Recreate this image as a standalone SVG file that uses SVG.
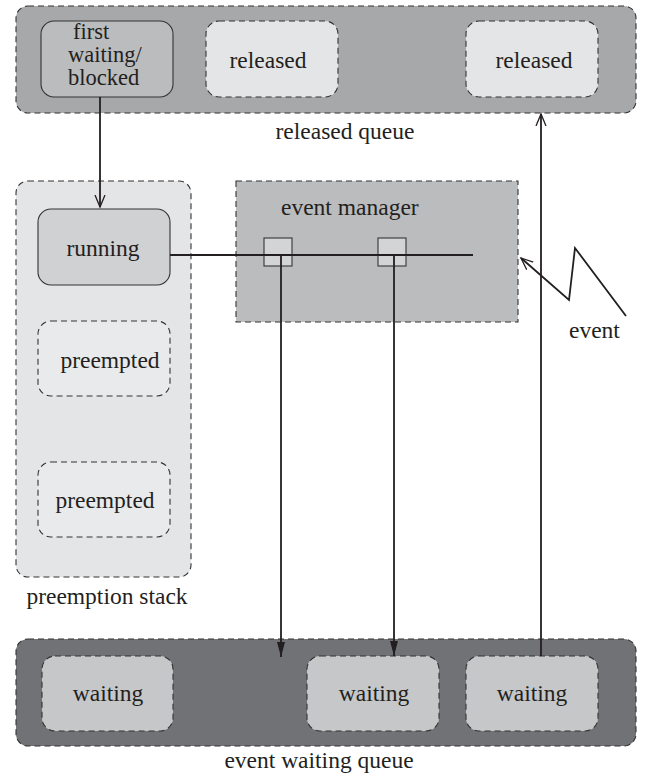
<svg xmlns="http://www.w3.org/2000/svg" width="645" height="779" viewBox="0 0 645 779">
<style>
.m{text-anchor:middle}
.dash{stroke:#333;stroke-width:1.1;stroke-dasharray:6,4}
.solid{stroke:#333;stroke-width:1.1}
.conn{stroke:#231f20;stroke-width:1.8;fill:none}
.port{fill:#d3d4d6;stroke:#333;stroke-width:1.1}
</style>
<defs>
<marker id="open" markerUnits="userSpaceOnUse" markerWidth="14" markerHeight="20" refX="12" refY="5" orient="auto" viewBox="0 0 14 10">
<path d="M0,0 L12,5 L0,10" fill="none" stroke="#231f20" stroke-width="1.3"/>
</marker>
<marker id="fill" markerUnits="userSpaceOnUse" markerWidth="16" markerHeight="10" refX="15" refY="4" orient="auto" viewBox="0 0 16 8">
<path d="M0,0 L15,4 L0,8 Z" fill="#231f20"/>
</marker>
</defs>

<g font-family="Liberation Serif, Times New Roman, Times, serif" font-size="23.5" fill="#231f20">
<g id="released-queue">
<rect x="16" y="6" width="620" height="107" rx="12" fill="#a7a8aa" class="dash"/>
<text class="m" x="345" y="139">released queue</text>
</g>
<g id="first-waiting-blocked">
<rect x="41" y="21" width="132" height="76" rx="13" fill="#bbbcbe" class="solid"/>
<text font-size="22.5" x="73" y="39">first</text>
<text font-size="22.5" x="68" y="62">waiting/</text>
<text font-size="22.5" x="68" y="85">blocked</text>
</g>
<g id="released-1">
<rect x="206" y="21" width="132" height="76" rx="13" fill="#e4e5e6" class="dash"/>
<text class="m" x="268" y="68">released</text>
</g>
<g id="released-2">
<rect x="466" y="21" width="132" height="76" rx="13" fill="#e4e5e6" class="dash"/>
<text class="m" x="534" y="68">released</text>
</g>

<g id="preemption-stack">
<rect x="16" y="181" width="175" height="396" rx="12" fill="#e4e5e6" class="dash"/>
<text class="m" x="107" y="604">preemption stack</text>
</g>
<g id="running">
<rect x="38" y="209" width="132" height="76" rx="13" fill="#d0d1d3" class="solid"/>
<text class="m" x="103" y="256">running</text>
</g>
<g id="preempted-1">
<rect x="38" y="321" width="132" height="75" rx="13" fill="#e9eaeb" class="dash"/>
<text class="m" x="110" y="368">preempted</text>
</g>
<g id="preempted-2">
<rect x="38" y="462" width="132" height="75" rx="13" fill="#e9eaeb" class="dash"/>
<text class="m" x="105" y="508">preempted</text>
</g>

<g id="event-manager">
<rect x="236" y="181" width="282" height="141" fill="#bbbcbe" class="dash"/>
<text x="281" y="215">event manager</text>
</g>

<g id="event-waiting-queue">
<rect x="16" y="639" width="620" height="107" rx="12" fill="#717275" class="dash"/>
<text class="m" x="319" y="768">event waiting queue</text>
</g>
<g id="waiting-1">
<rect x="42" y="656" width="131" height="75" rx="13" fill="#c6c7c9" class="dash"/>
<text class="m" x="108" y="701">waiting</text>
</g>
<g id="waiting-2">
<rect x="307" y="656" width="132" height="75" rx="13" fill="#c6c7c9" class="dash"/>
<text class="m" x="374" y="701">waiting</text>
</g>
<g id="waiting-3">
<rect x="466" y="656" width="132" height="75" rx="13" fill="#c6c7c9" class="dash"/>
<text class="m" x="532" y="701">waiting</text>
</g>

<g id="event-label">
<text x="569" y="338">event</text>
</g>
</g>

<g id="connectors">
<line class="conn" x1="100" y1="97" x2="100" y2="207" marker-end="url(#open)"/>
<rect class="port" x="264" y="238" width="28" height="28"/>
<rect class="port" x="378" y="238" width="28" height="28"/>
<line class="conn" x1="170" y1="255" x2="473" y2="255"/>
<line class="conn" x1="281" y1="255" x2="281" y2="657" marker-end="url(#fill)"/>
<line class="conn" x1="394" y1="255" x2="394" y2="656" marker-end="url(#fill)"/>
<line class="conn" x1="541" y1="656" x2="541" y2="114" marker-end="url(#open)"/>
<polyline class="conn" points="626,316 575,248 569,300 521,258" marker-end="url(#open)"/>
</g>
</svg>
